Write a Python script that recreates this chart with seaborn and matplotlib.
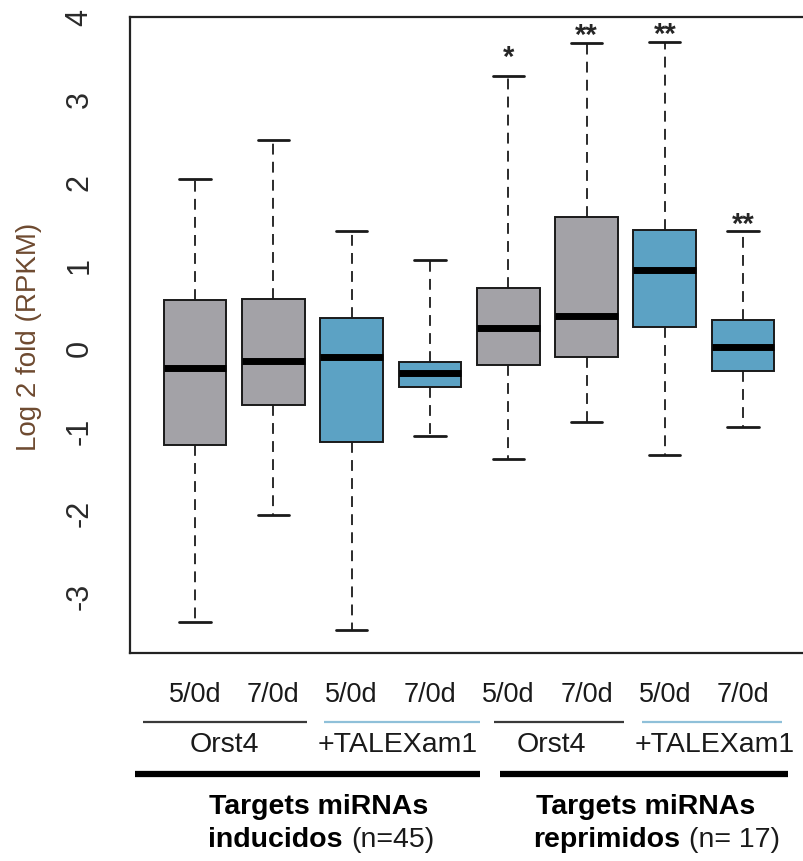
import numpy as np
import pandas as pd
import matplotlib
matplotlib.use("Agg")
import matplotlib.pyplot as plt
import seaborn as sns

# Five-number summaries per condition (whisker ends, quartiles, median)
conditions = ["Orst4 5/0d (ind)", "Orst4 7/0d (ind)", "TALEXam1 5/0d (ind)", "TALEXam1 7/0d (ind)",
              "Orst4 5/0d (rep)", "Orst4 7/0d (rep)", "TALEXam1 5/0d (rep)", "TALEXam1 7/0d (rep)"]
strain = ["Orst4", "Orst4", "+TALEXam1", "+TALEXam1", "Orst4", "Orst4", "+TALEXam1", "+TALEXam1"]
tick_labels = ["5/0d", "7/0d", "5/0d", "7/0d", "5/0d", "7/0d", "5/0d", "7/0d"]
whisker_lo = [-3.31, -2.01, -3.40, -1.06, -1.34, -0.89, -1.29, -0.95]
q1 = [-1.17, -0.69, -1.13, -0.47, -0.20, -0.11, 0.26, -0.28]
median = [-0.24, -0.15, -0.10, -0.30, 0.24, 0.39, 0.95, 0.02]
q3 = [0.58, 0.59, 0.37, -0.16, 0.73, 1.58, 1.43, 0.34]
whisker_hi = [2.04, 2.52, 1.41, 1.07, 3.29, 3.69, 3.70, 1.41]
stars = ["", "", "", "", "*", "**", "**", "**"]

group_labels = ["Orst4", "+TALEXam1", "Orst4", "+TALEXam1"]
block_titles = ["Targets miRNAs", "Targets miRNAs"]
block_names = ["inducidos", "reprimidos"]
block_counts = ["(n=45)", "(n= 17)"]

# Long table: each box is built from its five summary values
rows = []
for c, s, lo, a, m, b, hi in zip(conditions, strain, whisker_lo, q1, median, q3, whisker_hi):
    for v in (lo, a, m, b, hi):
        rows.append({"condition": c, "strain": s, "value": v})
df = pd.DataFrame(rows)

palette = {"Orst4": "#a3a2a7", "+TALEXam1": "#5ca2c4"}
line_cols = {"Orst4": "#3a3a3a", "+TALEXam1": "#8fc0d9"}

sns.set_style("white")
plt.rcParams["font.family"] = ["Liberation Sans", "DejaVu Sans"]

W, H = 804, 861
fig = plt.figure(figsize=(W / 100, H / 100), dpi=100)


def fy(py):
    return 1 - py / H


# The plotting region runs past the right edge of the canvas
ax_right_px = 840
ax = fig.add_axes([130 / W, fy(653), (ax_right_px - 130) / W, (653 - 17) / H])

sns.boxplot(data=df, x="condition", y="value", hue="strain", order=conditions,
            palette=palette, dodge=False, saturation=1, width=0.8, whis=(0, 100),
            linecolor="#1a1a1a", linewidth=1.4, legend=False, ax=ax,
            medianprops={"linewidth": 5, "color": "black", "solid_capstyle": "butt"},
            whiskerprops={"linestyle": (0, (6, 4)), "linewidth": 1.3},
            capprops={"linewidth": 2.0},
            showfliers=False)

step_px = 78.3
ax.set_xlim((130 - 195) / step_px, (ax_right_px - 195) / step_px)
ax.set_ylim(-3.68, 4.0)
ax.set_xlabel("")
ax.set_ylabel("Log 2 fold (RPKM)", fontsize=20, color="#6e4a30")
ax.yaxis.set_label_coords((42 - 130) / (ax_right_px - 130), 0.497)

ax.set_xticks(range(len(tick_labels)))
ax.set_xticklabels(tick_labels, fontsize=19.5, color="#1a1a1a")
ax.set_yticks([-3, -2, -1, 0, 1, 2, 3, 4])
ax.set_yticklabels(["-3", "-2", "-1", "0", "1", "2", "3", "4"], fontsize=22, color="#2a2a2a")
for lab in ax.get_yticklabels():
    lab.set_rotation(90)
    lab.set_va("center")
ax.tick_params(axis="x", length=14, width=1.5, pad=7, color="#222222")
ax.tick_params(axis="y", length=13, width=1.5, pad=12.5, color="#222222")

for side in ["left", "top", "bottom"]:
    ax.spines[side].set_visible(True)
    ax.spines[side].set_linewidth(1.6)
    ax.spines[side].set_color("#222222")
ax.spines["right"].set_visible(False)

# Significance stars above upper whiskers
star_gap_px = [0, 0, 0, 0, 18, 7, 7, 7]
for i, (s, hi) in enumerate(zip(stars, whisker_hi)):
    if s:
        ax.annotate(s, (i, hi), xytext=(0, star_gap_px[i]), textcoords="offset pixels",
                    ha="center", va="center", fontsize=21, fontweight="bold",
                    annotation_clip=False)

# Strain group underlines and labels
trans = matplotlib.transforms.blended_transform_factory(ax.transData, fig.transFigure)
group_spans = [(-0.66, 1.43), (1.65, 3.64), (3.82, 5.48), (5.71, 7.50)]
group_centers = [0.37, 2.59, 4.55, 6.64]
for name, (x0, x1), xc in zip(group_labels, group_spans, group_centers):
    ax.plot([x0, x1], [fy(722), fy(722)], transform=trans, clip_on=False,
            color=line_cols[name], lw=1.6, solid_capstyle="butt")
    ax.text(xc, fy(745), name, transform=trans, ha="center", va="center",
            fontsize=20.5, color="#1a1a1a")

# Target set blocks
block_spans = [(-0.77, 3.64), (3.90, 7.57)]
block_centers = [1.58, 5.76]
block_splits = [1.94, 6.25]
for (x0, x1), xc, xs, t, nm, cnt in zip(block_spans, block_centers, block_splits,
                                        block_titles, block_names, block_counts):
    ax.plot([x0, x1], [fy(774), fy(774)], transform=trans, clip_on=False,
            color="black", lw=4.5, solid_capstyle="butt")
    ax.text(xc, fy(807), t, transform=trans, ha="center", va="center",
            fontsize=20.5, fontweight="bold", color="black")
    ax.text(xs - 0.06, fy(840), nm, transform=trans, ha="right", va="center",
            fontsize=20.5, fontweight="bold", color="black")
    ax.text(xs + 0.06, fy(840), cnt, transform=trans, ha="left", va="center",
            fontsize=20.5, color="#1a1a1a")

fig.savefig("out.png", dpi=100)
